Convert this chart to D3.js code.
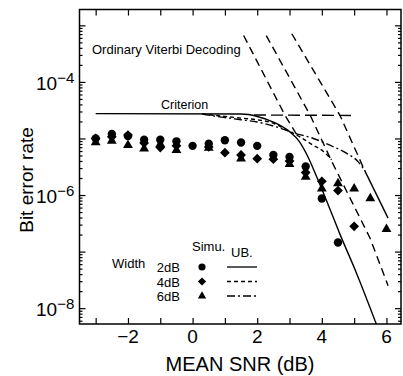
<!DOCTYPE html>
<html><head><meta charset="utf-8">
<script src="https://cdn.jsdelivr.net/npm/d3@7/dist/d3.min.js"></script>
<style>
body{margin:0;background:#fff}
svg{display:block}
text{font-family:"Liberation Sans",Arial,Helvetica,sans-serif;fill:#000}
</style>
</head><body>
<svg id="chart" width="403" height="376"></svg>
<script>
// ---- data ----
const snr = [-3,-2.5,-2,-1.5,-1,-0.5,0,0.5,1,1.5,2,2.5,3,3.5,4,4.5,5,5.5,6];
// simulated BER, width 2dB (circles)
const sim2dB = [1.0e-5,1.2e-5,1.1e-5,9.5e-6,9.5e-6,8.9e-6,7.4e-6,8.1e-6,9.3e-6,8.5e-6,7.4e-6,5.1e-6,4.7e-6,3.2e-6,8.7e-7,1.45e-7,null,null,null];
// simulated BER, width 4dB (diamonds)
const sim4dB = [1.0e-5,1.07e-5,1.15e-5,8.3e-6,6.9e-6,7.4e-6,null,7.1e-6,5.6e-6,5.1e-6,4.4e-6,4.3e-6,4.0e-6,2.5e-6,1.75e-6,1.2e-6,2.8e-7,null,null];
// simulated BER, width 6dB (triangles)
const sim6dB = [8.5e-6,9.1e-6,7.6e-6,6.6e-6,7.9e-6,6.2e-6,null,6.8e-6,null,4.4e-6,null,null,3.5e-6,2.1e-6,1.3e-6,1.6e-6,1.3e-6,8.7e-7,2.5e-7];

// upper bounds [snr, BER]
const ub2dB = [[-3,2.75e-5],[1.5,2.7e-5],[2,2.45e-5],[2.5,1.95e-5],[3,1.32e-5],[3.3,8.9e-6],[3.55,5.0e-6],[3.84,2.1e-6],[4.14,8.1e-7],[4.55,2.1e-7],[5.07,4.2e-8],[5.7,5.0e-9]];
const ub4dB = [[0.3,2.7e-5],[1.0,2.45e-5],[1.5,2.29e-5],[2.0,2.14e-5],[2.5,1.86e-5],[2.91,1.41e-5],[3.32,1.07e-5],[3.73,7.6e-6],[4.05,5.9e-6],[4.3,4.2e-6]];
const ub6dB = [[0.3,2.7e-5],[1.0,2.34e-5],[1.5,2.14e-5],[2.0,1.95e-5],[2.5,1.66e-5],[3.12,1.26e-5],[3.74,1.0e-5],[4.25,7.6e-6],[4.76,5.5e-6],[5.12,3.9e-6],[5.32,2.75e-6]];
const ub6dBTail = [[5.32,2.75e-6],[6.05,3.9e-7]];
// criterion
const criterion = [[1.9,2.6e-5],[5.0,2.55e-5]];
// ordinary Viterbi decoding
const viterbi1 = [[1.58,6.6e-4],[2.86,2.57e-5],[3.25,1.1e-5]];
const viterbi2 = [[2.28,6.6e-4],[3.64,2.57e-5],[4.3,4.0e-6],[5.49,1.74e-7],[6.05,2.5e-8]];
const viterbi3 = [[3.07,7.1e-4],[4.56,2.57e-5],[5.32,2.75e-6]];

const xTicks = [-3,-2,-1,0,1,2,3,4,5,6];
const xLabels = [-2,0,2,4,6];
const yLabelExp = [-4,-6,-8];
const legendWidths = ["2dB","4dB","6dB"];

// ---- layout ----
const svg = d3.select("#chart");
const L=79.5, R=401, T=9.5, B=324;
const x = d3.scaleLinear().domain([-3.5,6.45]).range([L,R]);
const y = d3.scaleLog().domain([Math.pow(10,-8.28), Math.pow(10,-2.72)]).range([B,T]);

svg.append("defs").append("clipPath").attr("id","clip")
  .append("rect").attr("x",L).attr("y",T).attr("width",R-L).attr("height",B-T);

// ticks
const majorY = [1e-8,1e-7,1e-6,1e-5,1e-4,1e-3];
const minorY = [];
for(let e=-9;e<=-3;e++) for(let k=2;k<=9;k++){const v=k*Math.pow(10,e); if(v>y.domain()[0]&&v<y.domain()[1]) minorY.push(v);}

function clean(g){g.select(".domain").remove(); g.selectAll("line").attr("stroke","#000").attr("stroke-width",1.2);}
svg.append("g").attr("transform",`translate(${L},0)`).call(d3.axisLeft(y).tickValues(majorY).tickSize(-6).tickFormat("")).call(clean);
svg.append("g").attr("transform",`translate(${L},0)`).call(d3.axisLeft(y).tickValues(minorY).tickSize(-3).tickFormat("")).call(clean);
svg.append("g").attr("transform",`translate(${R},0)`).call(d3.axisRight(y).tickValues(majorY).tickSize(-6).tickFormat("")).call(clean);
svg.append("g").attr("transform",`translate(${R},0)`).call(d3.axisRight(y).tickValues(minorY).tickSize(-3).tickFormat("")).call(clean);
svg.append("g").attr("transform",`translate(0,${T})`).call(d3.axisTop(x).tickValues(xTicks).tickSize(-6).tickFormat("")).call(clean);
svg.append("g").attr("transform",`translate(0,${B})`).call(d3.axisBottom(x).tickValues(xTicks).tickSize(-6).tickFormat("")).call(clean);

// frame
svg.append("rect").attr("x",L).attr("y",T).attr("width",R-L).attr("height",B-T)
  .attr("fill","none").attr("stroke","#000").attr("stroke-width",1.5);

// x labels
svg.append("g").selectAll("text").data(xLabels).join("text")
  .attr("x",d=>x(d)).attr("y",343).attr("text-anchor","middle")
  .attr("font-size",19).text(d=>d3.format("")(d));

// y labels
const yl = svg.append("g").selectAll("text").data(yLabelExp).join("text")
  .attr("x",36).attr("y",d=>y(Math.pow(10,d))+8).attr("font-size",19);
yl.append("tspan").text("10");
yl.append("tspan").attr("dy",-7).attr("font-size",15).text(d=>"\u2212"+Math.abs(d));

// axis titles
svg.append("text").attr("x",240).attr("y",371).attr("text-anchor","middle").attr("font-size",20).text("MEAN SNR (dB)");
svg.append("text").attr("transform","translate(33,180) rotate(-90)").attr("text-anchor","middle").attr("font-size",19).text("Bit error rate");

// lines
const plot = svg.append("g").attr("clip-path","url(#clip)");
const line = d3.line().x(d=>x(d[0])).y(d=>y(d[1])).curve(d3.curveMonotoneX);
const lin = d3.line().x(d=>x(d[0])).y(d=>y(d[1]));
function path(data,dash,gen){
  plot.append("path").datum(data).attr("d",gen||line).attr("fill","none").attr("stroke","#000")
    .attr("stroke-width",1.4).attr("stroke-dasharray",dash||null);
}
path(viterbi1,"8,5",lin);
path(viterbi2,"8,5",lin);
path(viterbi3,"8,5",lin);
path(criterion,"12,5",lin);
path(ub2dB,null);
path(ub4dB,"4,3");
path(ub6dB,"8,3,2,3");
path(ub6dBTail,null,lin);

// markers
const symCircle = d3.symbol().type(d3.symbolCircle).size(55);
const symDiamond = d3.symbol().type(d3.symbolSquare).size(48);
const symTri = d3.symbol().type(d3.symbolTriangle).size(42);
function markers(vals,gen,rot){
  const pts = snr.map((s,i)=>[s,vals[i]]).filter(d=>d[1]!=null);
  plot.append("g").selectAll("path").data(pts).join("path")
    .attr("transform",d=>`translate(${x(d[0])},${y(d[1])})${rot?" rotate(45)":""}`)
    .attr("d",gen).attr("fill","#000");
}
markers(sim6dB,symTri,false);
markers(sim4dB,symDiamond,true);
markers(sim2dB,symCircle,false);

// annotations
svg.append("text").attr("x",92).attr("y",54).attr("font-size",13).text("Ordinary Viterbi Decoding");
svg.append("text").attr("x",161).attr("y",109).attr("font-size",12.5).text("Criterion");

// legend
const lg = svg.append("g").attr("font-size",13);
lg.append("text").attr("x",112).attr("y",268).text("Width");
lg.append("text").attr("x",192).attr("y",251).text("Simu.");
lg.append("text").attr("x",231).attr("y",257).text("UB.");
const ly=[267,281.5,296];
const gens=[[symCircle,false],[symDiamond,true],[symTri,false]];
const dashes=[null,"4,3","8,3,2,3"];
legendWidths.forEach((w,i)=>{
  lg.append("text").attr("x",180).attr("y",ly[i]+5).attr("text-anchor","end").text(w);
  lg.append("path").attr("transform",`translate(202,${ly[i]})${gens[i][1]?" rotate(45)":""}`)
    .attr("d",d3.symbol().type(gens[i][0].type()()).size(i===0?40:(i===1?34:30))).attr("fill","#000");
  lg.append("line").attr("x1",227).attr("x2",257).attr("y1",ly[i]).attr("y2",ly[i])
    .attr("stroke","#000").attr("stroke-width",1.3).attr("stroke-dasharray",dashes[i]);
});
</script>
</body></html>
